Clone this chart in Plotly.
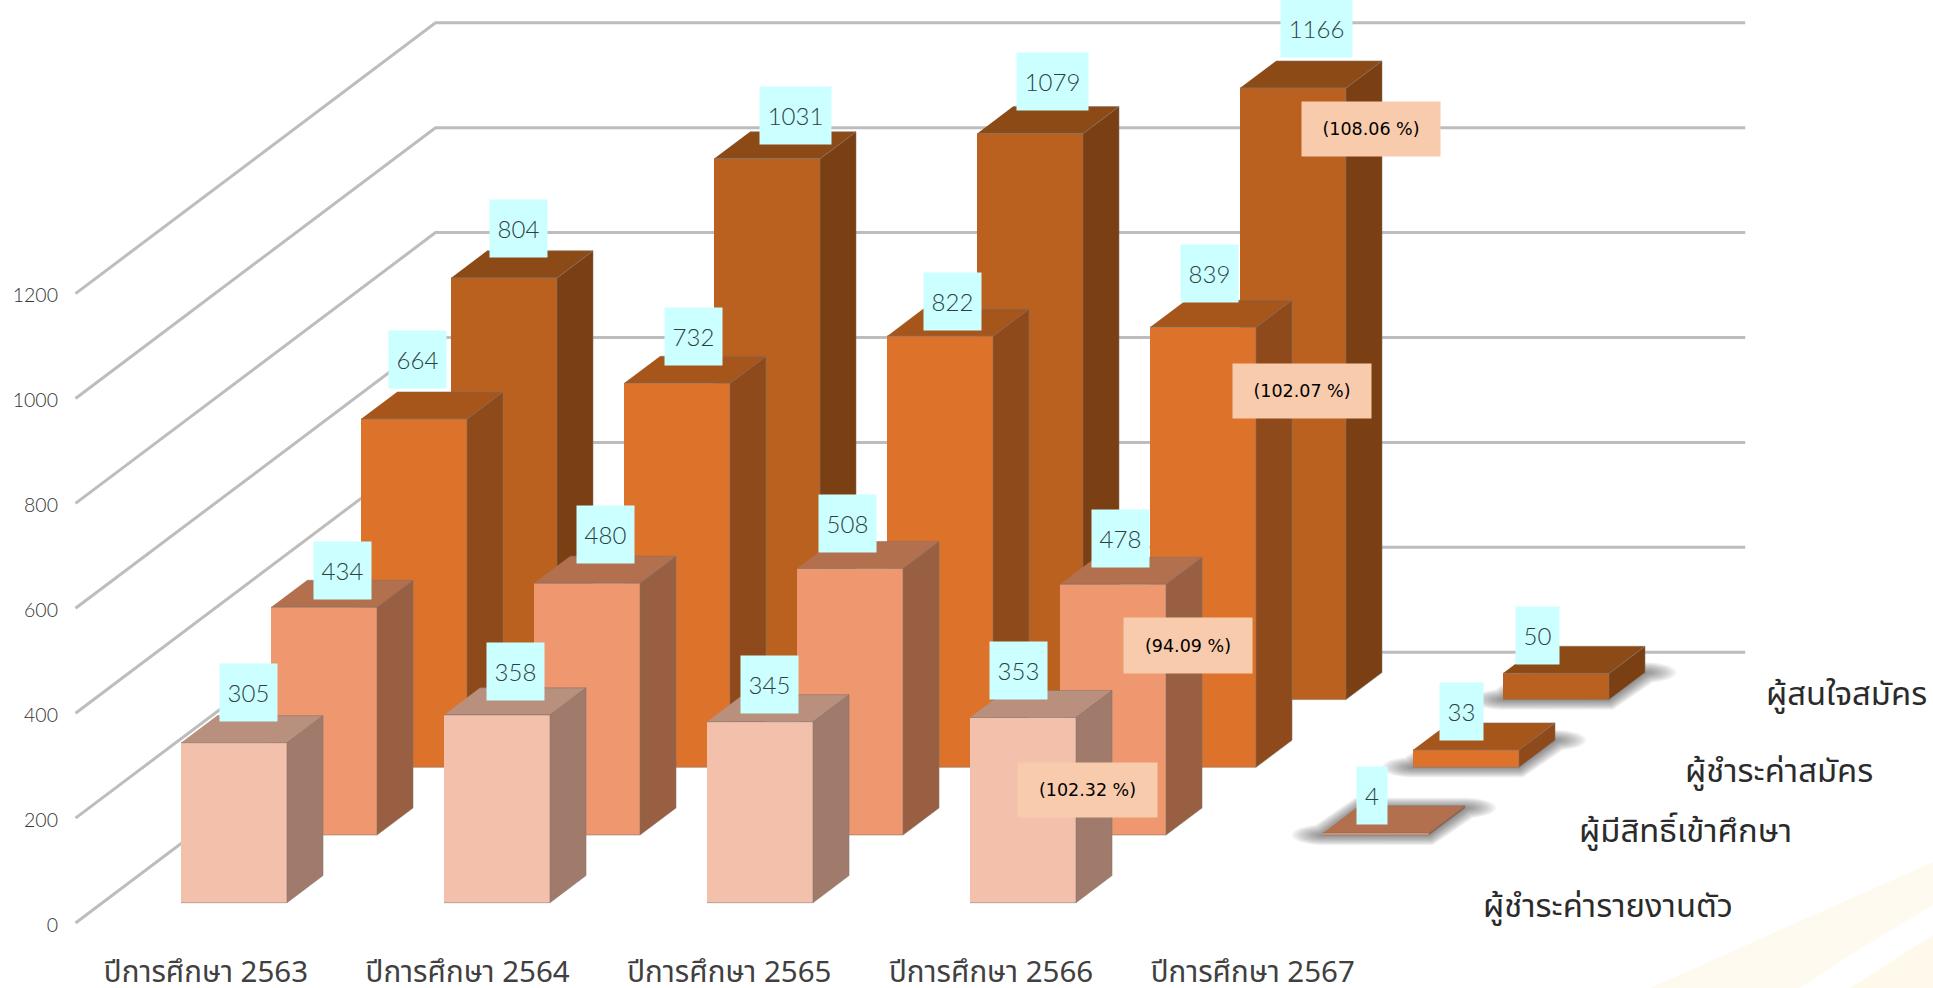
import math
import plotly.graph_objects as go

# ---------- data ----------
categories = ["ปีการศึกษา 2563", "ปีการศึกษา 2564", "ปีการศึกษา 2565", "ปีการศึกษา 2566", "ปีการศึกษา 2567"]
series_names = ["ผู้ชำระค่ารายงานตัว", "ผู้มีสิทธิ์เข้าศึกษา", "ผู้ชำระค่าสมัคร", "ผู้สนใจสมัคร"]
paid_report = [305, 358, 345, 353, None]
eligible = [434, 480, 508, 478, 4]
paid_apply = [664, 732, 822, 839, 33]
interested = [804, 1031, 1079, 1166, 50]
value_ticks = [0, 200, 400, 600, 800, 1000, 1200]
pct_labels = ["(102.32 %)", "(94.09 %)", "(102.07 %)", "(108.06 %)"]
pct_bars = [(0, 3), (1, 3), (2, 3), (3, 3)]

series = [paid_report, eligible, paid_apply, interested]

# ---------- layout constants (pixels of the 1933x988 page) ----------
W, H = 1933, 988
CAT_PX, C0_PX = 263.0, 207.0           # pixels per category, pixel of category 0
VAL_PX, V0_PX = 0.5245, 923.0          # pixels per value unit, pixel of value 0
DEPTH_PX_X, DEPTH_PX_Y = 90.0, 67.7    # oblique shift of one series slot
DX = DEPTH_PX_X / CAT_PX
DY = DEPTH_PX_Y / VAL_PX
BAR_W = 106 / CAT_PX
D_NEAR, D_FAR = 0.3, 0.7
PLOT_L, PLOT_B = 62, 945
GRID = "#BDBDBD"
GRID_RIGHT = 4.48
LABEL_STEP = 261.7 / 263.0

colors = [  # front, side, top
    ("#F3C1AB", "#A07B6C", "#B98F7D"),
    ("#EF9870", "#985F42", "#B3704F"),
    ("#DD722B", "#8E4A1A", "#A6551B"),
    ("#BA6120", "#7A3F12", "#8C4A16"),
]

# hand-placed label offsets from the bar's top-front centre (pixels: right, down)
S = 1.2328
value_offsets = [
    [(12, -40), (15, -35), (8, -30), (-4, -38), None],
    [(15, -29.5), (15, -39), (-2, -36), (6, -37), (-3, -30)],
    [(3, -48), (13, -38), (10, -28), (5, -43), (-4, -31)],
    [(12, -40), (23, -35), (18, -42), (19, -48), (-15, -30)],
]
pct_offsets = [(52, 59), (61, 50), (80, 52), (63, 33)]
pct_sizes = [(139, 54), (128, 55), (138, 54), (138, 54)]
legend_offsets = [(46.5, 17.5), (52.5, 11), (68.5, 18), (59.5, 9)]

FONT = "'Lato Light', Lato, 'Open Sans', sans-serif"
THAI = "'Noto Sans Thai', 'Noto Sans Thai Looped', Loma, Garuda, 'Noto Sans', 'DejaVu Sans', sans-serif"

fig = go.Figure()


def poly(xs, ys, fill, line="rgba(130,115,105,0.55)", lw=1):
    fig.add_trace(go.Scatter(x=xs, y=ys, mode="lines", fill="toself", fillcolor=fill,
                             line=dict(color=line, width=lw), hoverinfo="skip", showlegend=False))


# gridlines: left wall then back wall
for v in value_ticks:
    xs = [-0.5, -0.5 + 4 * DX, GRID_RIGHT + 4 * DX]
    ys = [v, v + 4 * DY, v + 4 * DY]
    fig.add_trace(go.Scatter(x=xs, y=ys, mode="lines", line=dict(color=GRID, width=3),
                             hoverinfo="skip", showlegend=False))


def shadow(c, s):
    # soft floor shadow under the very short bars: footprint grown by a shrinking ellipse
    cx = c + (s + 0.5) * DX
    cy = (s + 0.5) * DY
    hw = BAR_W / 2
    h = 0.2
    sx, sy = 2.6, 0.85
    corners = [(cx - hw - h * DX, cy - h * DY), (cx + hw - h * DX, cy - h * DY),
               (cx + hw + h * DX, cy + h * DY), (cx - hw + h * DX, cy + h * DY)]
    for k in range(12, 0, -1):
        ex, ey = k * sx / CAT_PX, k * sy / VAL_PX
        xs, ys = [], []
        for i in range(48):
            t = 2 * math.pi * i / 48
            ux, uy = ex * math.cos(t), ey * math.sin(t)
            px = max(corners, key=lambda p: (p[0] * CAT_PX) * math.cos(t) * sx + (p[1] * VAL_PX) * math.sin(t) * sy)
            xs.append(px[0] + ux)
            ys.append(px[1] + uy)
        poly(xs, ys, "rgba(70,70,70,0.065)", line="rgba(0,0,0,0)", lw=0)


# bars, painted back to front
for s in range(3, -1, -1):
    front, side, top = colors[s]
    for c, v in enumerate(series[s]):
        if v is None:
            continue
        if v < 100:
            shadow(c, s)
        xl = c - BAR_W / 2
        xr = c + BAR_W / 2
        n_x, f_x = D_NEAR * DX + s * DX, D_FAR * DX + s * DX
        n_y, f_y = D_NEAR * DY + s * DY, D_FAR * DY + s * DY
        poly([xr + n_x, xr + f_x, xr + f_x, xr + n_x], [n_y, f_y, f_y + v, n_y + v], side)
        poly([xl + n_x, xr + n_x, xr + f_x, xl + f_x], [n_y + v, n_y + v, f_y + v, f_y + v], top)
        poly([xl + n_x, xr + n_x, xr + n_x, xl + n_x], [n_y, n_y, n_y + v, n_y + v], front)

annots = []


def bar_top(s, c):
    return c + (s + D_NEAR) * DX, series[s][c] + (s + D_NEAR) * DY


# value labels
for s in range(4):
    for c, v in enumerate(series[s]):
        if v is None:
            continue
        x, y = bar_top(s, c)
        ox, oy = value_offsets[s][c]
        digits = len(str(v))
        annots.append(dict(x=x, y=y, xref="x", yref="y", text=str(v), showarrow=False,
                           xshift=ox * S, yshift=-oy * S + 0.5, xanchor="center", yanchor="middle",
                           width={1: 30, 2: 43, 3: 57, 4: 71}[digits], height=57, borderpad=0,
                           align="center", valign="middle", bgcolor="#CCFFFF",
                           font=dict(family=FONT, size=24, color="#2F3F3F")))

# percentage labels
for (s, c), text, (ox, oy), (w, h) in zip(pct_bars, pct_labels, pct_offsets, pct_sizes):
    x, y = bar_top(s, c)
    annots.append(dict(x=x, y=y, xref="x", yref="y", text=text, showarrow=False,
                       xshift=ox * S, yshift=-oy * S, xanchor="center", yanchor="middle",
                       width=w, height=h, borderpad=0, align="center", valign="middle", bgcolor="#F8CBAD",
                       font=dict(family="'DejaVu Sans', sans-serif", size=17.5, color="#000000")))

# series names along the depth axis
for s, name in enumerate(series_names):
    ox, oy = legend_offsets[s]
    annots.append(dict(x=4.5 + (s + 0.5) * DX, y=(s + 0.5) * DY, xref="x", yref="y", text=name,
                       showarrow=False, xshift=ox - 1, yshift=-oy, xanchor="left", yanchor="middle",
                       font=dict(family=THAI, size=32.8, color="#2B2B2B")))

# faint swooshes in the bottom-right corner of the page
def P(px, py):
    return f"{px / W:.4f} {1 - py / H:.4f}"


swooshes = [
    ("#FFFAF0", [(1650, 988), (1780, 930), (1933, 862), (1933, 905), (1850, 955), (1800, 988)]),
    ("#FFF9EC", [(1850, 988), (1933, 935), (1933, 988)]),
]
shapes = []
for col, pts in swooshes:
    d = "M " + " L ".join(P(*p) for p in pts) + " Z"
    shapes.append(dict(type="path", xref="paper", yref="paper", path=d, fillcolor=col,
                       line=dict(width=0), layer="below"))

fig.update_layout(
    width=W, height=H, margin=dict(l=0, r=0, t=0, b=0, autoexpand=False),
    paper_bgcolor="#FFFFFF", plot_bgcolor="rgba(0,0,0,0)",
    showlegend=False, annotations=annots, shapes=shapes, hovermode=False,
    xaxis=dict(domain=[PLOT_L / W, 1], automargin=False,
               range=[(PLOT_L - C0_PX) / CAT_PX, (W - C0_PX) / CAT_PX],
               tickvals=[i * LABEL_STEP - 0.004 for i in range(5)], ticktext=categories,
               showgrid=False, zeroline=False,
               showline=False, ticks="", ticklabelstandoff=6,
               tickfont=dict(family=THAI, size=29.5, color="#404040")),
    yaxis=dict(domain=[1 - PLOT_B / H, 1], automargin=False,
               range=[(V0_PX - PLOT_B) / VAL_PX, V0_PX / VAL_PX],
               tickvals=value_ticks, showgrid=False, zeroline=False, showline=False, ticks="",
               ticklabelstandoff=3, ticklabelshift=2,
               tickfont=dict(family=FONT, size=19.5, color="#333333")),
)

fig.write_html("out.html", config={"displayModeBar": False},
               post_script="document.body.style.margin='0';document.documentElement.style.overflow='hidden';")
